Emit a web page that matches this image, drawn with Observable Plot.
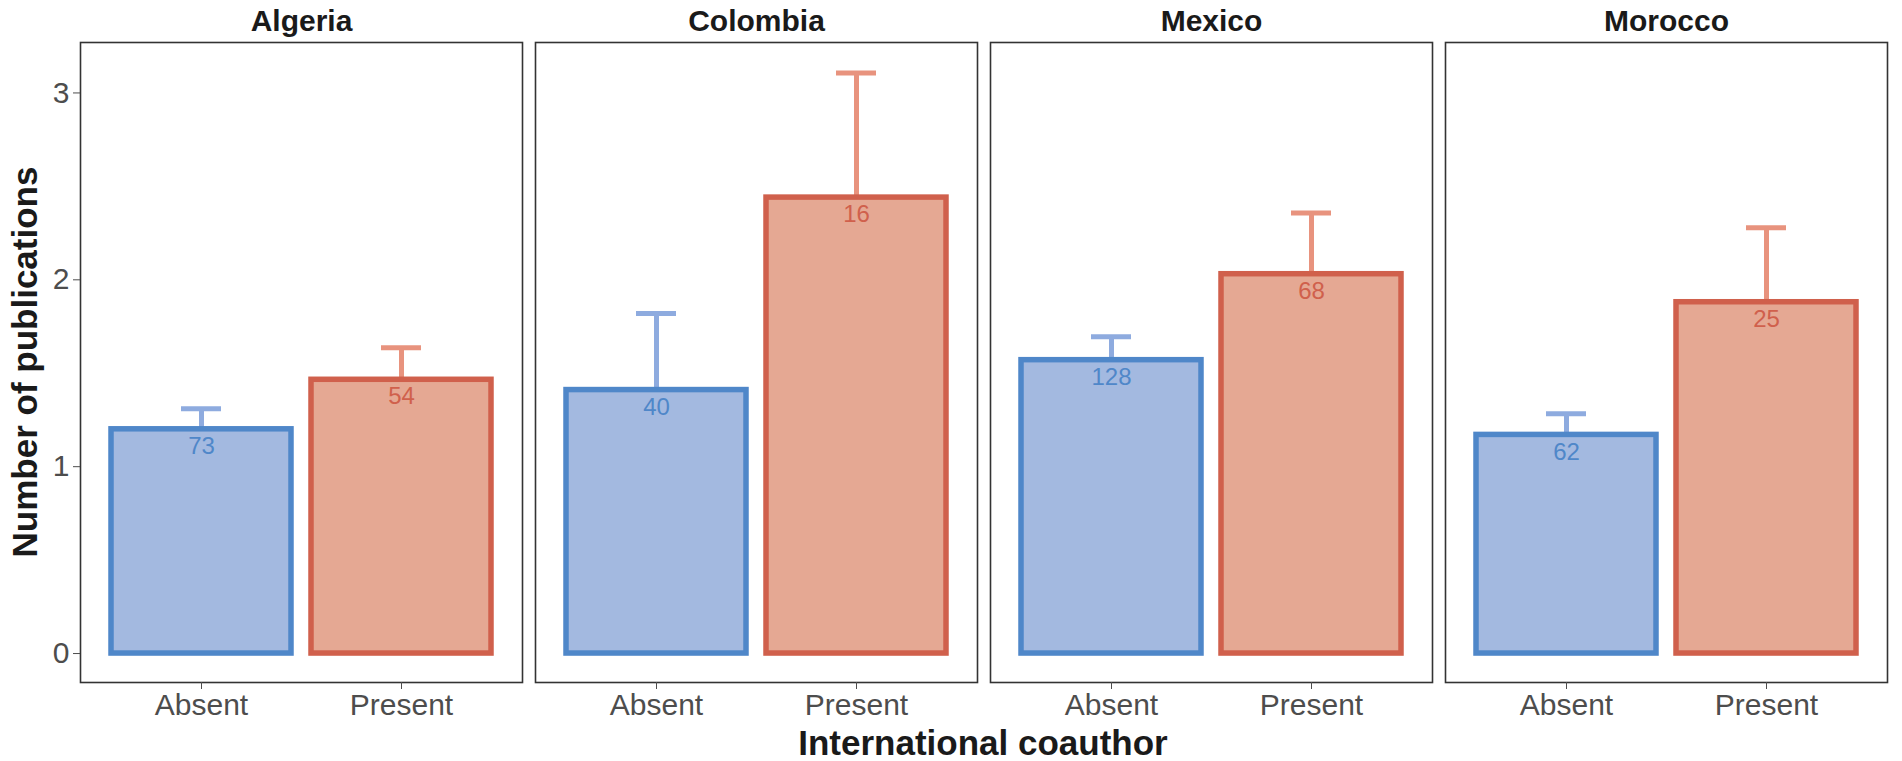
<!DOCTYPE html>
<html>
<head>
<meta charset="utf-8">
<script src="https://cdn.jsdelivr.net/npm/d3@7"></script>
<script src="https://cdn.jsdelivr.net/npm/@observablehq/plot@0.6"></script>
<style>
  html, body { margin: 0; padding: 0; background: #fff; }
  #chart svg { display: block; }
</style>
</head>
<body>
<div id="chart"></div>
<script>
// ---- data ----
const countries = ["Algeria", "Colombia", "Mexico", "Morocco"];
const groups = ["Absent", "Present"];
const meanAbsent  = [1.20, 1.41, 1.57, 1.17];
const meanPresent = [1.465, 2.44, 2.03, 1.88];
const upperAbsent  = [1.31, 1.82, 1.695, 1.283];
const upperPresent = [1.636, 3.107, 2.358, 2.278];
const nAbsent  = [73, 40, 128, 62];
const nPresent = [54, 16, 68, 25];
const yTicks = [0, 1, 2, 3];

const fillColors   = {Absent: "#a3b9e0", Present: "#e5a893"};
const strokeColors = {Absent: "#4f87c9", Present: "#d0604c"};
const errColors    = {Absent: "#8eabdf", Present: "#e8937e"};

const rows = [];
countries.forEach((c, i) => {
  rows.push({country: c, group: "Absent", mean: meanAbsent[i], upper: upperAbsent[i], n: nAbsent[i]});
  rows.push({country: c, group: "Present", mean: meanPresent[i], upper: upperPresent[i], n: nPresent[i]});
});

const font = "'Liberation Sans', Arial, Helvetica, sans-serif";

const plot = Plot.plot({
  width: 1902,
  height: 761,
  marginLeft: 78,
  marginRight: 13,
  marginTop: 42,
  marginBottom: 79,
  style: {fontFamily: font, background: "#fff"},
  fx: {domain: countries, paddingInner: 0.0285, paddingOuter: 0, label: null},
  x: {domain: groups, paddingInner: 0.1, paddingOuter: 0.15, label: null},
  y: {domain: [-0.155, 3.27], label: null},
  color: {type: "identity"},
  marks: [
    Plot.frame({stroke: "#333", strokeWidth: 1.6}),
    Plot.axisFx({anchor: "top", tickSize: 0, tickPadding: 12, fontSize: 30, fontWeight: "bold", color: "#1a1a1a", label: null}),
    Plot.axisY({ticks: yTicks, tickSize: 7, tickPadding: 4, fontSize: 30, color: "#4d4d4d", label: null, tickFormat: d3.format("d")}),
    Plot.axisX({tickSize: 7, tickPadding: 4, fontSize: 30, color: "#4d4d4d", label: null}),
    Plot.ruleX(rows, {fx: "country", x: "group", y1: "mean", y2: "upper", stroke: d => errColors[d.group], strokeWidth: 5}),
    Plot.tickY(rows, {fx: "country", x: "group", y: "upper", stroke: d => errColors[d.group], strokeWidth: 5, insetLeft: 70, insetRight: 70}),
    Plot.barY(rows, {fx: "country", x: "group", y1: 0, y2: "mean", fill: d => fillColors[d.group], stroke: d => strokeColors[d.group], strokeWidth: 5.5}),
    Plot.text(rows, {fx: "country", x: "group", y: "mean", text: d => String(d.n), fill: d => strokeColors[d.group], fontSize: 24, dy: 17})
  ]
});

document.getElementById("chart").appendChild(plot);

// axis titles
const svg = d3.select(plot);
svg.append("text")
  .attr("transform", "translate(37,362) rotate(-90)")
  .attr("text-anchor", "middle")
  .style("font-family", font)
  .style("font-weight", "bold")
  .style("font-size", "35px")
  .attr("fill", "#1a1a1a")
  .text("Number of publications");
svg.append("text")
  .attr("x", 983)
  .attr("y", 755)
  .attr("text-anchor", "middle")
  .style("font-family", font)
  .style("font-weight", "bold")
  .style("font-size", "35px")
  .attr("fill", "#1a1a1a")
  .text("International coauthor");
</script>
</body>
</html>
